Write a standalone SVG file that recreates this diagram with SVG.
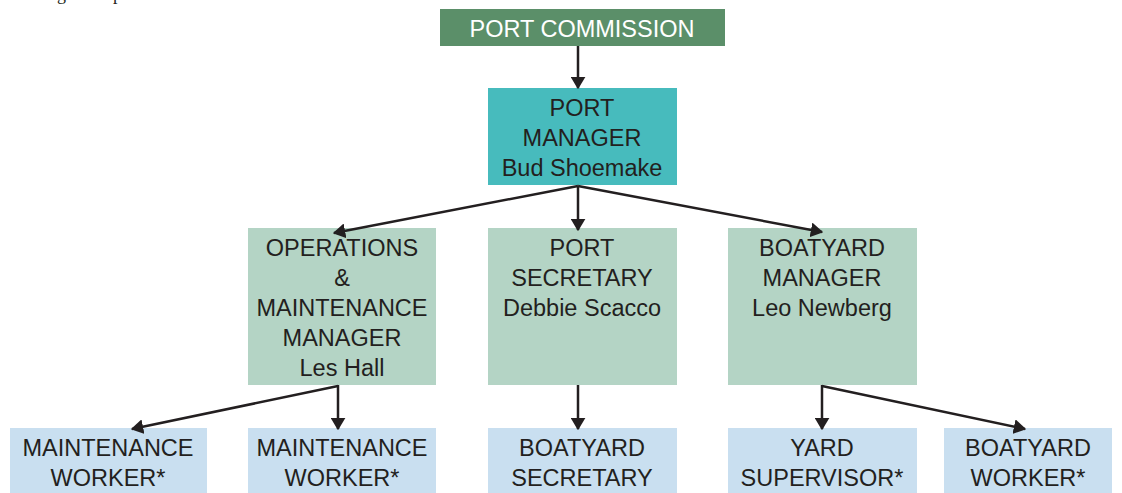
<svg xmlns="http://www.w3.org/2000/svg" width="1122" height="493" viewBox="0 0 1122 493">
<defs>
<marker id="ah" viewBox="0 0 10 12" refX="9" refY="6" markerWidth="5" markerHeight="6" orient="auto" markerUnits="strokeWidth">
<path d="M0,0 L10,6 L0,12 Z" fill="#231f20"/>
</marker>
<style>
.t{font-family:"Liberation Sans",Arial,sans-serif;font-size:23.5px;fill:#231f20;text-anchor:middle}
.w{fill:#ffffff}
.c{stroke:#231f20;stroke-width:2.5;fill:none;marker-end:url(#ah)}
.g1{fill:#5b8f69}
.g2{fill:#47bbbd}
.g3{fill:#b4d4c5}
.g4{fill:#c9dff0}
</style>
</defs>
<rect width="1122" height="493" fill="#ffffff"/>
<text font-family="'Liberation Serif',serif" font-size="18" fill="#231f20" y="0"><tspan x="57">g</tspan><tspan x="113">p</tspan></text>

<g id="port-commission"><rect class="g1" x="440" y="9" width="285" height="37"/><text class="t w" x="582" y="37">PORT COMMISSION</text></g>
<g id="port-manager"><rect class="g2" x="488" y="88" width="189" height="97"/><text class="t" x="582" y="116">PORT</text><text class="t" x="582" y="146">MANAGER</text><text class="t" x="582" y="176">Bud Shoemake</text></g>
<g id="ops-manager"><rect class="g3" x="248" y="228" width="188" height="157"/><text class="t" x="342" y="256">OPERATIONS</text><text class="t" x="342" y="286">&amp;</text><text class="t" x="342" y="316">MAINTENANCE</text><text class="t" x="342" y="346">MANAGER</text><text class="t" x="342" y="376">Les Hall</text></g>
<g id="port-secretary"><rect class="g3" x="488" y="228" width="189" height="157"/><text class="t" x="582" y="256">PORT</text><text class="t" x="582" y="286">SECRETARY</text><text class="t" x="582" y="316">Debbie Scacco</text></g>
<g id="boatyard-manager"><rect class="g3" x="728" y="228" width="189" height="157"/><text class="t" x="822" y="256">BOATYARD</text><text class="t" x="822" y="286">MANAGER</text><text class="t" x="822" y="316">Leo Newberg</text></g>
<g id="maint-worker-1"><rect class="g4" x="10" y="428" width="197" height="65"/><text class="t" x="108" y="456">MAINTENANCE</text><text class="t" x="108" y="486">WORKER*</text></g>
<g id="maint-worker-2"><rect class="g4" x="248" y="428" width="188" height="65"/><text class="t" x="342" y="456">MAINTENANCE</text><text class="t" x="342" y="486">WORKER*</text></g>
<g id="boatyard-secretary"><rect class="g4" x="488" y="428" width="189" height="65"/><text class="t" x="582" y="456">BOATYARD</text><text class="t" x="582" y="486">SECRETARY</text></g>
<g id="yard-supervisor"><rect class="g4" x="728" y="428" width="189" height="65"/><text class="t" x="822" y="456">YARD</text><text class="t" x="822" y="486">SUPERVISOR*</text></g>
<g id="boatyard-worker"><rect class="g4" x="944" y="428" width="168" height="65"/><text class="t" x="1028" y="456">BOATYARD</text><text class="t" x="1028" y="486">WORKER*</text></g>

<g id="connectors">
<line class="c" x1="578" y1="46" x2="578" y2="88"/>
<line class="c" x1="578" y1="186" x2="334" y2="233"/>
<line class="c" x1="578" y1="186" x2="578" y2="230"/>
<line class="c" x1="578" y1="186" x2="822" y2="232"/>
<line class="c" x1="338" y1="386" x2="132" y2="429"/>
<line class="c" x1="338" y1="385" x2="338" y2="429"/>
<line class="c" x1="578" y1="385" x2="578" y2="429"/>
<line class="c" x1="822" y1="386" x2="1025" y2="429"/>
<line class="c" x1="822" y1="385" x2="822" y2="429"/>
</g>
</svg>
